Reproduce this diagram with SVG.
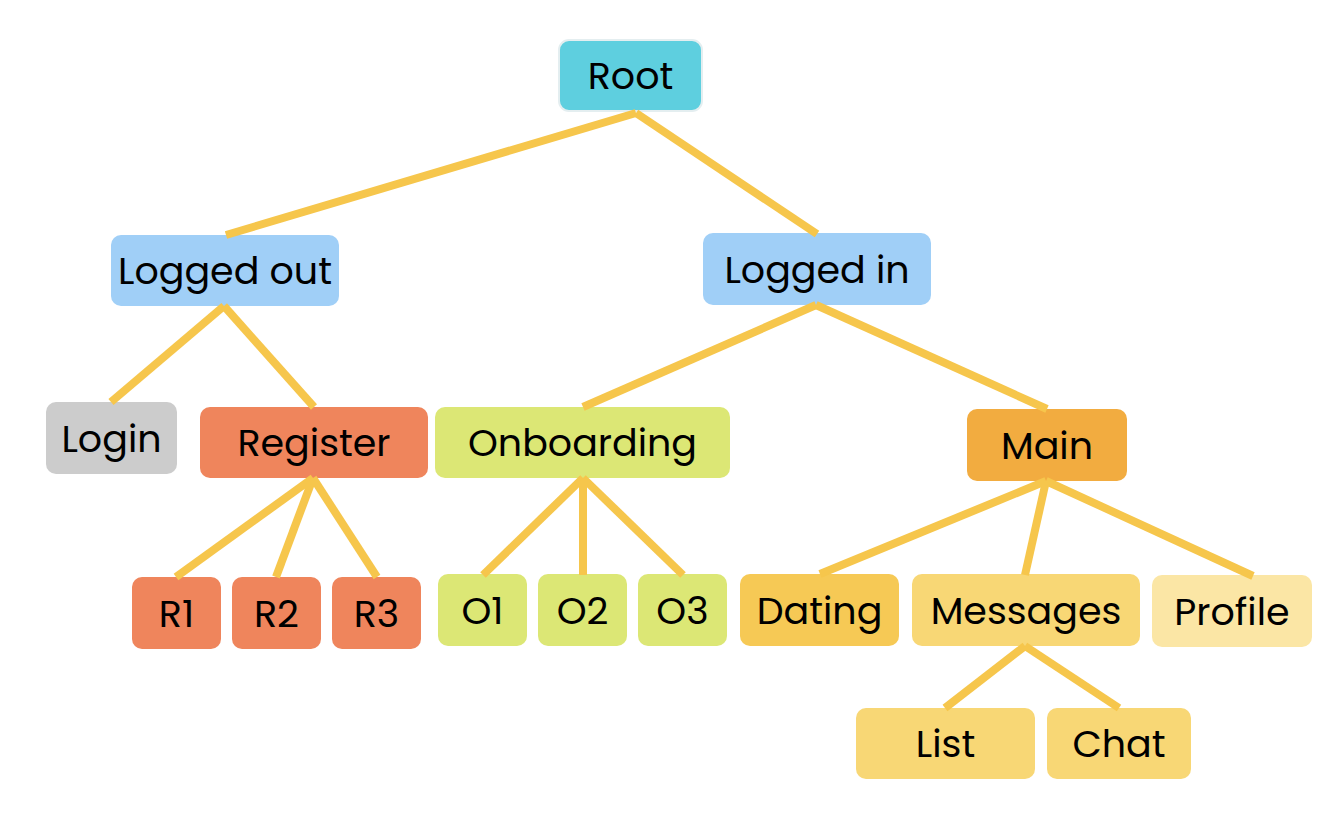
<svg xmlns="http://www.w3.org/2000/svg" width="1340" height="816" viewBox="0 0 1340 816">
<style>
.n rect{rx:10;ry:10}
.n text{font-family:"Poppins","Noto Sans","Liberation Sans",sans-serif;font-size:38px;font-weight:400;fill:#000;text-anchor:middle}
.blue{fill:#A0CFF7}
.red{fill:#EF855C}
.green{fill:#DCE775}
.msg{fill:#F8D775}
#edges line{stroke:#F6C64C;stroke-width:8;stroke-linecap:butt}
</style>
<rect width="1340" height="816" fill="#fff"/>
<g id="root" class="n"><rect x="559" y="40" width="143" height="71" fill="#5ECFDF" stroke="#E4EEF0" stroke-width="2"/><text x="630.5" y="89">Root</text></g>
<g id="logged-out" class="n"><rect class="blue" x="111" y="235" width="228" height="71"/><text x="225" y="284">Logged out</text></g>
<g id="logged-in" class="n"><rect class="blue" x="703" y="233" width="228" height="72"/><text x="817" y="282.5">Logged in</text></g>
<g id="login" class="n"><rect x="46" y="402" width="131" height="72" fill="#CCCCCC"/><text x="111.5" y="451.5">Login</text></g>
<g id="register" class="n"><rect class="red" x="200" y="407" width="228" height="71"/><text x="314" y="456">Register</text></g>
<g id="onboarding" class="n"><rect class="green" x="435" y="407" width="295" height="71"/><text x="582.5" y="456">Onboarding</text></g>
<g id="main" class="n"><rect x="967" y="409" width="160" height="72" fill="#F2AC40"/><text x="1047" y="458.5">Main</text></g>
<g id="r1" class="n"><rect class="red" x="132" y="577" width="89" height="72"/><text x="176.5" y="626.5">R1</text></g>
<g id="r2" class="n"><rect class="red" x="232" y="577" width="89" height="72"/><text x="276.5" y="626.5">R2</text></g>
<g id="r3" class="n"><rect class="red" x="332" y="577" width="89" height="72"/><text x="376.5" y="626.5">R3</text></g>
<g id="o1" class="n"><rect class="green" x="438" y="574" width="89" height="72"/><text x="482.5" y="623.5">O1</text></g>
<g id="o2" class="n"><rect class="green" x="538" y="574" width="89" height="72"/><text x="582.5" y="623.5">O2</text></g>
<g id="o3" class="n"><rect class="green" x="638" y="574" width="89" height="72"/><text x="682.5" y="623.5">O3</text></g>
<g id="dating" class="n"><rect x="740" y="574" width="159" height="72" fill="#F6C955"/><text x="819.5" y="623.5">Dating</text></g>
<g id="messages" class="n"><rect class="msg" x="912" y="574" width="228" height="72"/><text x="1026" y="623.5">Messages</text></g>
<g id="profile" class="n"><rect x="1152" y="575" width="160" height="72" fill="#FBE6A5"/><text x="1232" y="624.5">Profile</text></g>
<g id="list" class="n"><rect class="msg" x="856" y="708" width="179" height="71"/><text x="945.5" y="757">List</text></g>
<g id="chat" class="n"><rect class="msg" x="1047" y="708" width="144" height="71"/><text x="1119" y="757">Chat</text></g>
<g id="edges">
<line x1="636" y1="113" x2="226" y2="235"/>
<line x1="636" y1="113" x2="817" y2="234"/>
<line x1="224" y1="306" x2="111" y2="402"/>
<line x1="224" y1="306" x2="314" y2="407"/>
<line x1="816" y1="305" x2="583" y2="407"/>
<line x1="816" y1="305" x2="1047" y2="409"/>
<line x1="313" y1="478" x2="176" y2="577"/>
<line x1="313" y1="478" x2="276" y2="577"/>
<line x1="313" y1="478" x2="377" y2="577"/>
<line x1="583" y1="478" x2="483" y2="575"/>
<line x1="583" y1="478" x2="583" y2="575"/>
<line x1="583" y1="478" x2="683" y2="575"/>
<line x1="1046" y1="481" x2="820" y2="574"/>
<line x1="1046" y1="481" x2="1025" y2="575"/>
<line x1="1046" y1="481" x2="1253" y2="576"/>
<line x1="1025" y1="646" x2="945" y2="708"/>
<line x1="1025" y1="646" x2="1119" y2="708"/>
</g>
</svg>
